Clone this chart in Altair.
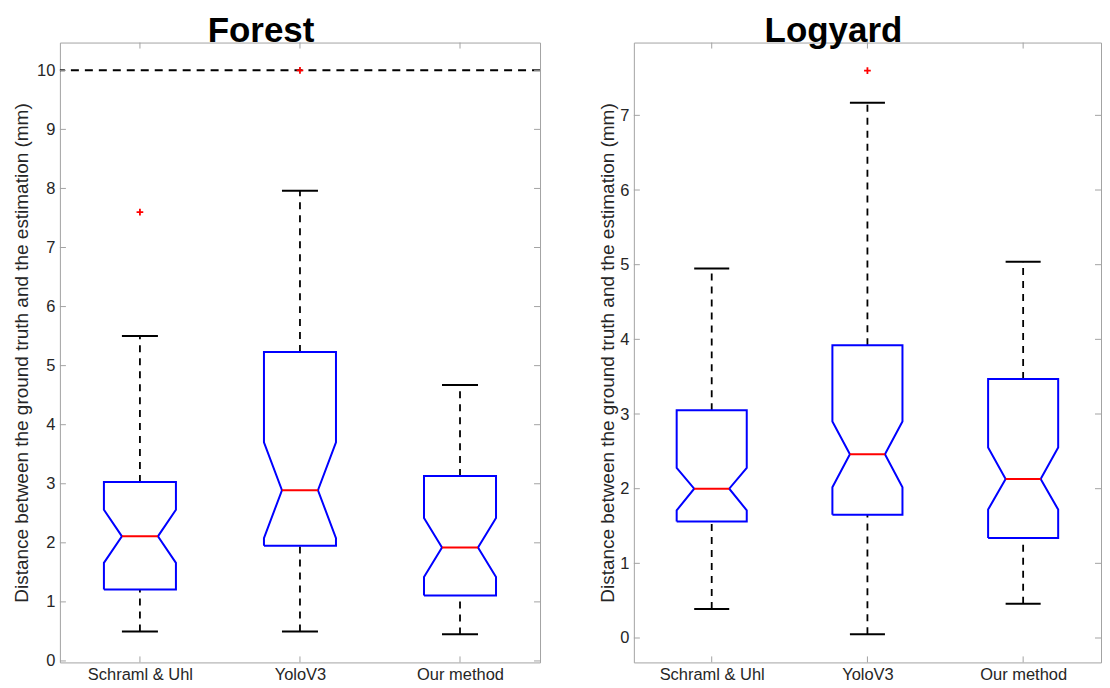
import altair as alt
import pandas as pd

# ---------------- data ----------------
categories = ["Schraml & Uhl", "YoloV3", "Our method"]

forest_lower_whisker = [0.50, 0.50, 0.45]
forest_q1 = [1.21, 1.95, 1.11]
forest_notch_lo = [1.66, 2.08, 1.42]
forest_median = [2.11, 2.89, 1.92]
forest_notch_hi = [2.56, 3.70, 2.42]
forest_q3 = [3.03, 5.23, 3.13]
forest_upper_whisker = [5.50, 7.96, 4.67]
forest_outlier_cat = ["Schraml & Uhl", "YoloV3"]
forest_outlier_val = [7.6, 10.0]
forest_limit = [10.0]
forest_yticks = [0, 1, 2, 3, 4, 5, 6, 7, 8, 9, 10]

logyard_lower_whisker = [0.39, 0.05, 0.46]
logyard_q1 = [1.56, 1.65, 1.34]
logyard_notch_lo = [1.71, 2.02, 1.72]
logyard_median = [2.00, 2.46, 2.13]
logyard_notch_hi = [2.28, 2.90, 2.55]
logyard_q3 = [3.05, 3.92, 3.47]
logyard_upper_whisker = [4.95, 7.17, 5.04]
logyard_outlier_cat = ["YoloV3"]
logyard_outlier_val = [7.6]
logyard_yticks = [0, 1, 2, 3, 4, 5, 6, 7]

y_title = "Distance between the ground truth and the estimation (mm)"

# ---------------- style ----------------
BOX_HALF = 0.225
NOTCH_HALF = 0.1125
FONT = "Liberation Sans"
FRAME = "#a3a3a3"
TXT = "#262626"
PLOT_H = 621

label_expr = "[" + ",".join("'" + c.replace("'", "\\'") + "'" for c in categories) + "][datum.value - 1]"


def panel(title, lw, q1, nlo, med, nhi, q3, uw, out_cat, out_val, yticks, ydom,
          width, title_dx, ytitle_pad, limit=None):
    pos = list(range(1, len(categories) + 1))
    stats = pd.DataFrame({
        "cat": categories, "pos": pos, "lw": lw, "q1": q1, "nlo": nlo,
        "med": med, "nhi": nhi, "q3": q3, "uw": uw,
    })
    stats["left"] = stats["pos"] - NOTCH_HALF
    stats["right"] = stats["pos"] + NOTCH_HALF

    rows = []
    for _, r in stats.iterrows():
        p = r["pos"]
        pts = [
            (p - BOX_HALF, r["q1"]), (p - BOX_HALF, r["nlo"]), (p - NOTCH_HALF, r["med"]),
            (p - BOX_HALF, r["nhi"]), (p - BOX_HALF, r["q3"]), (p + BOX_HALF, r["q3"]),
            (p + BOX_HALF, r["nhi"]), (p + NOTCH_HALF, r["med"]), (p + BOX_HALF, r["nlo"]),
            (p + BOX_HALF, r["q1"]), (p - BOX_HALF, r["q1"]),
        ]
        for k, (xx, yy) in enumerate(pts):
            rows.append({"cat": r["cat"], "x": xx, "y": yy, "o": k})
    outline = pd.DataFrame(rows)

    outl = pd.DataFrame({"cat": out_cat, "val": out_val})
    outl["pos"] = [categories.index(c) + 1 for c in out_cat]
    ytk = pd.DataFrame({"v": yticks})
    xtk = pd.DataFrame({"p": pos})

    xscale = alt.Scale(domain=[0.5, len(categories) + 0.5], nice=False, zero=False)
    yscale = alt.Scale(domain=ydom, nice=False, zero=False)
    xaxis = alt.Axis(values=pos, labelExpr=label_expr, title=None, grid=False,
                     domain=False, ticks=False, labelFontSize=16.5, labelFont=FONT,
                     labelColor=TXT, labelPadding=4)
    yaxis = alt.Axis(values=yticks, title=y_title, grid=False, domain=False, ticks=False,
                     labelFontSize=16.5, labelFont=FONT, labelColor=TXT, labelPadding=5,
                     titleFontSize=19, titleFont=FONT, titleFontWeight="normal",
                     titleColor=TXT, titlePadding=ytitle_pad)

    def X(f):
        return alt.X(f, type="quantitative", scale=xscale, axis=xaxis)

    def Y(f):
        return alt.Y(f, type="quantitative", scale=yscale, axis=yaxis)

    layers = []
    if limit is not None:
        layers.append(
            alt.Chart(pd.DataFrame({"lim": limit})).mark_rule(
                color="black", strokeWidth=2, strokeDash=[8, 6]
            ).encode(y=Y("lim"))
        )
    layers += [
        alt.Chart(stats).mark_rule(color="black", strokeWidth=1.8, strokeDash=[7, 6]).encode(
            x=X("pos"), y=Y("q3"), y2="uw"),
        alt.Chart(stats).mark_rule(color="black", strokeWidth=1.8, strokeDash=[7, 6]).encode(
            x=X("pos"), y=Y("lw"), y2="q1"),
        alt.Chart(stats).mark_rule(color="black", strokeWidth=2).encode(
            x=X("left"), x2="right", y=Y("uw")),
        alt.Chart(stats).mark_rule(color="black", strokeWidth=2).encode(
            x=X("left"), x2="right", y=Y("lw")),
        alt.Chart(outline).mark_line(color="#0000ff", strokeWidth=2, strokeJoin="miter").encode(
            x=X("x"), y=Y("y"), order="o:Q", detail="cat:N"),
        alt.Chart(stats).mark_rule(color="#ff0000", strokeWidth=2).encode(
            x=X("left"), x2="right", y=Y("med")),
        alt.Chart(outl).mark_point(shape="M-1,0L1,0M0,-1L0,1", size=45, filled=False,
                                   color="#ff0000", strokeWidth=1.8, opacity=1).encode(
            x=X("pos"), y=Y("val")),
        # inward ticks (MATLAB style) on all four sides
        alt.Chart(ytk).mark_rule(color=FRAME, strokeWidth=1).encode(
            y=Y("v"), x=alt.value(0), x2=alt.value(6)),
        alt.Chart(ytk).mark_rule(color=FRAME, strokeWidth=1).encode(
            y=Y("v"), x=alt.value(width - 6), x2=alt.value(width)),
        alt.Chart(xtk).mark_rule(color=FRAME, strokeWidth=1).encode(
            x=X("p"), y=alt.value(0), y2=alt.value(6)),
        alt.Chart(xtk).mark_rule(color=FRAME, strokeWidth=1).encode(
            x=X("p"), y=alt.value(PLOT_H - 6), y2=alt.value(PLOT_H)),
    ]
    return alt.layer(*layers).properties(
        width=width, height=PLOT_H,
        title=alt.TitleParams(title, fontSize=35, font=FONT, fontWeight="bold",
                              color="black", anchor="middle", frame="group",
                              dx=title_dx, offset=-35, baseline="alphabetic"),
    )


forest = panel("Forest", forest_lower_whisker, forest_q1, forest_notch_lo, forest_median,
               forest_notch_hi, forest_q3, forest_upper_whisker, forest_outlier_cat,
               forest_outlier_val, forest_yticks, [-0.025, 10.47], 481, -39, 5,
               limit=forest_limit)
logyard = panel("Logyard", logyard_lower_whisker, logyard_q1, logyard_notch_lo,
                logyard_median, logyard_notch_hi, logyard_q3, logyard_upper_whisker,
                logyard_outlier_cat, logyard_outlier_val, logyard_yticks,
                [-0.327, 7.975], 468, -34, 2.5)

chart = alt.hconcat(forest, logyard, spacing=55).properties(
    padding={"left": 4, "top": 5, "right": 0, "bottom": 0},
    background="white",
).configure_view(stroke=FRAME, strokeWidth=1, fill="white")

chart.save("out.html", embed_options={"renderer": "svg", "actions": False})
